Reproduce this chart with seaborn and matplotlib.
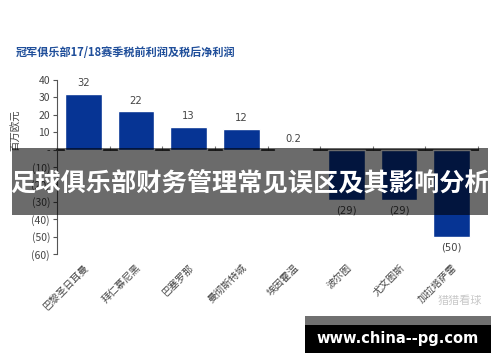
import matplotlib
matplotlib.use("Agg")
import matplotlib.pyplot as plt
import seaborn as sns
import pandas as pd
from matplotlib.ticker import FuncFormatter
from matplotlib.patches import Rectangle

clubs = ["巴黎圣日耳曼", "拜仁慕尼黑", "巴塞罗那", "曼彻斯特城", "埃因霍温", "波尔图", "尤文图斯", "加拉塔萨雷"]
profits = [32, 22, 13, 12, 0.2, -29, -29, -50]
bar_labels = ["32", "22", "13", "12", "0.2", "(29)", "(29)", "(50)"]
yticks = [40, 30, 20, 10, 0, -10, -20, -30, -40, -50, -60]

title = "冠军俱乐部17/18赛季税前利润及税后净利润"
ylabel = "百万欧元"
banner = "足球俱乐部财务管理常见误区及其影响分析"
watermark = "www.china--pg.com"
logo = "猎猎看球"

sns.set_theme(style="white")
plt.rcParams["font.family"] = ["Noto Sans CJK SC", "DejaVu Sans"]

df = pd.DataFrame({"club": clubs, "profit": profits})

fig = plt.figure(figsize=(5, 3.62), dpi=100)
ax = fig.add_axes([0.114, 0.298, 0.842, 0.481])
sns.barplot(data=df, x="club", y="profit", color="#063494", saturation=1,
            width=0.7, ax=ax)

ax.set_ylim(-60, 40)
ax.set_xlim(-0.5, len(clubs) - 0.5)
ax.set_yticks(yticks)

def fmt(v, pos):
    if v == 0:
        return "-"
    if v < 0:
        return f"({abs(int(v))})"
    return f"{int(v)}"

ax.yaxis.set_major_formatter(FuncFormatter(fmt))
ax.tick_params(axis="y", length=3, width=0.8, color="#555555", labelsize=7.5,
               labelcolor="#444444", pad=2, left=True)
ax.tick_params(axis="x", length=0, labelsize=7.2, labelcolor="#444444", pad=6)
for lab in ax.get_xticklabels():
    lab.set_rotation(45)
    lab.set_ha("right")
    lab.set_rotation_mode("anchor")
ax.set_xlabel("")
ax.set_ylabel("")

for s in ["top", "right", "bottom"]:
    ax.spines[s].set_visible(False)
ax.spines["left"].set_color("#555555")
ax.spines["left"].set_linewidth(0.8)

# zero line axis with boundary ticks
sec = ax.secondary_xaxis(0.6)
sec.set_xticks([i + 0.5 for i in range(-1, len(clubs))])
sec.set_xticklabels([])
sec.tick_params(length=3, width=0.8, color="#777777", direction="out")
sec.spines["bottom"].set_color("#777777")
sec.spines["bottom"].set_linewidth(0.8)

ax.bar_label(ax.containers[0], labels=bar_labels, padding=4, fontsize=7.2,
             color="#444444", family=["DejaVu Sans"])

fig.text(0.032, 0.855, title, fontsize=8, fontweight="bold", color="#1f4e9a",
         ha="left", va="center")
fig.text(0.03, 0.64, ylabel, fontsize=7.5, color="#444444", rotation=90,
         ha="center", va="center")

# banner overlay
fig.patches.append(Rectangle((0.024, 0.406), 0.952, 0.185, transform=fig.transFigure,
                             facecolor="black", alpha=0.58, edgecolor="none", zorder=5))
fig.text(0.5, 0.494, banner, fontsize=18.2, fontweight="bold", color="white",
         ha="center", va="center", zorder=6)

# logo
fig.text(0.92, 0.168, logo, fontsize=8, color="#c8c8c8", ha="center", va="center")

# watermark
fig.patches.append(Rectangle((0.61, 0.102), 0.372, 0.025, transform=fig.transFigure,
                             facecolor="#707070", edgecolor="none", zorder=5))
fig.patches.append(Rectangle((0.61, 0.025), 0.372, 0.077, transform=fig.transFigure,
                             facecolor="black", edgecolor="none", zorder=5))
fig.text(0.796, 0.066, watermark, fontsize=10.5, fontweight="bold", color="white",
         ha="center", va="center", family=["DejaVu Sans"], zorder=6)

fig.savefig("out.png", dpi=100)
